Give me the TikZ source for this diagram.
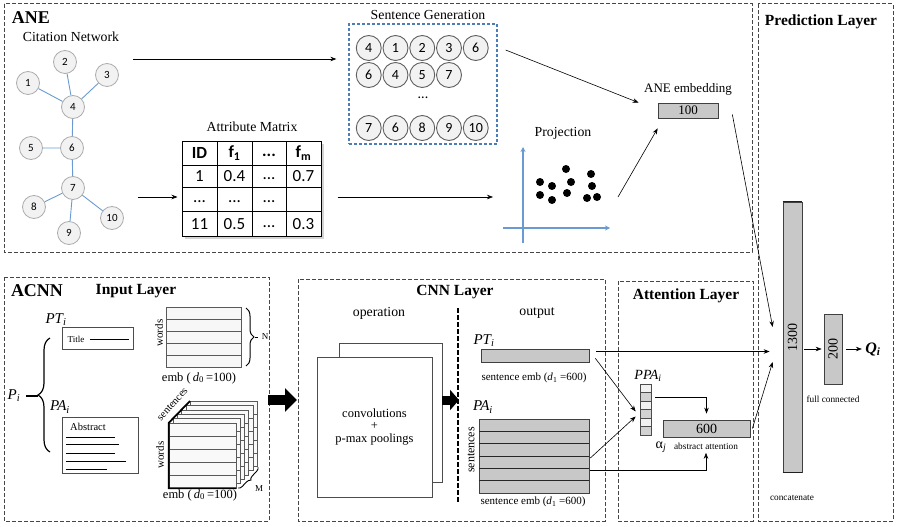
\documentclass[tikz,border=0pt]{standalone}
\usepackage{fontspec}
\setmainfont{Liberation Serif}
\newfontfamily\calib{Carlito}
\usetikzlibrary{arrows.meta,decorations.pathreplacing,shadows}
\newcommand{\fsz}[1]{\fontsize{#1}{#1}\selectfont}
\definecolor{netblue}{RGB}{105,155,210}
\definecolor{sgblue}{RGB}{75,125,185}
\definecolor{barfill}{RGB}{200,200,200}
\definecolor{boxline}{RGB}{70,70,70}

\begin{document}
\begin{tikzpicture}[x=1pt,y=-1pt]
\useasboundingbox (0,0) rectangle (897,527);
\tikzstyle{layer}=[draw=boxline,line width=1pt,dash pattern=on 4pt off 2pt]
\tikzstyle{conn}=[-{Stealth[length=6pt,width=4.5pt]},line width=0.6pt]
\tikzstyle{netnode}=[circle,draw=gray!65,fill=gray!10,line width=0.8pt,minimum size=23pt,inner sep=0pt,font=\calib\fsz{11}]
\tikzstyle{seqnode}=[circle,draw=gray!75!black,fill=gray!10,line width=0.9pt,minimum size=25pt,inner sep=0pt,font=\calib\fsz{14}]
\tikzstyle{bar}=[draw=gray!50!black,fill=barfill,inner sep=0pt,line width=0.7pt]
\tikzstyle{title}=[font=\bfseries\fsz{15.5}]
\tikzstyle{lab}=[font=\fsz{13.8}]
\tikzstyle{small}=[font=\fsz{9.3}]
\tikzstyle{cell}=[font=\calib\fsz{17},inner sep=0pt]
\tikzstyle{sym}=[font=\itshape\fsz{15}]
\tikzstyle{axis}=[netblue,line width=1.6pt,-{Stealth[length=5pt,width=5pt]}]
\tikzstyle{fat}=[-{Triangle[length=12pt,width=23pt]}]

% layers
\draw[layer] (4,4) rectangle (752,252);
\draw[layer] (758,4) rectangle (893,521);
\draw[layer] (4,277) rectangle (269,521);
\draw[layer] (298,279) rectangle (605,521);
\draw[layer] (618,281) rectangle (753,521);
\node[font=\bfseries\fsz{18}] (ane) at (31,18) {ANE};
\node[title] (pred) at (821,22) {Prediction Layer};
\node[font=\bfseries\fsz{18}] (acnn) at (37,291) {ACNN};
\node[title] (inp) at (136,291) {Input Layer};
\node[title] (cnn) at (455,292) {CNN Layer};
\node[title] (attn) at (686,296) {Attention Layer};

% citation network
\node[lab] (citlab) at (71,37) {Citation Network};
\foreach \n/\x/\y in {1/28/83,2/65/62,3/107/75,4/73/107,5/31/148,6/72/148,7/73/188,8/34/207,9/69/233,10/112/218}
  \node[netnode] (n\n) at (\x,\y) {\n};
\draw[netblue,line width=0.9pt] (n1)--(n4) (n2)--(n4) (n3)--(n4) (n4)--(n6)
  (n5)--(n6) (n6)--(n7) (n7)--(n8) (n7)--(n9) (n7)--(n10);
\coordinate (netout1) at (133,59);
\coordinate (netout2) at (138,197);

% attribute matrix
\node[lab] (attrlab) at (252,127) {Attribute Matrix};
\node[draw,line width=1pt,fill=white,minimum width=139pt,minimum height=95pt,inner sep=0pt,
  drop shadow={shadow xshift=2.5pt,shadow yshift=-2.5pt,opacity=0.35}] (attr) at (251.5,189) {};
\draw[line width=0.9pt] (217,141.5)--(217,236.5) (252,141.5)--(252,236.5) (286,141.5)--(286,236.5)
  (182,165)--(321,165) (182,187)--(321,187) (182,211)--(321,211);
\node[cell,font=\calib\bfseries\fsz{17}] (c01) at (199.5,153) {ID};
\node[cell,font=\calib\bfseries\fsz{17}] (c02) at (234.5,153) {f\textsubscript{1}};
\node[cell,font=\calib\bfseries\fsz{17}] (c03) at (269,155) {...};
\node[cell,font=\calib\bfseries\fsz{17}] (c04) at (303.5,153) {f\textsubscript{m}};
\node[cell] (c11) at (199.5,176) {1};
\node[cell] (c12) at (234.5,176) {0.4};
\node[cell] (c13) at (269,179) {...};
\node[cell] (c14) at (303.5,176) {0.7};
\node[cell] (c21) at (199.5,202) {...};
\node[cell] (c22) at (234.5,202) {...};
\node[cell] (c23) at (269,202) {...};
\node[cell] (c31) at (199.5,224) {11};
\node[cell] (c32) at (234.5,224) {0.5};
\node[cell] (c33) at (269,227) {...};
\node[cell] (c34) at (303.5,224) {0.3};

% sentence generation
\node[lab] (sglab) at (428,15) {Sentence Generation};
\node[draw=sgblue,dash pattern=on 3pt off 2pt,line width=1.3pt,minimum width=148pt,minimum height=120pt] (sentbox) at (423,84) {};
\foreach \v [count=\i] in {4,1,2,3,6}
  \node[seqnode] (sa\i) at (342+26.75*\i,48) {\v};
\foreach \v [count=\i] in {6,4,5,7}
  \node[seqnode] (sb\i) at (342+26.75*\i,75) {\v};
\node[font=\calib\fsz{14}] (sdots) at (423,98) {...};
\foreach \v [count=\i] in {7,6,8,9,10}
  \node[seqnode] (sc\i) at (342+26.75*\i,128) {\v};

% projection
\node[lab] (projlab) at (563,133) {Projection};
\draw[axis] (523,243) -- (523,147);
\draw[axis] (503,228) -- (610,228);
\foreach \x/\y in {540/182,552/186,566/169,571/182,591/174,592/186,540/195,552/200,567/193,587/198,597/197}
  \fill (\x,\y) circle (4pt);
\coordinate (projin) at (493,197);
\coordinate (projout) at (618,197);

% ANE embedding
\node[font=\fsz{13}] (anelab) at (688,89) {ANE embedding};
\node[bar,minimum width=60pt,minimum height=15pt,font=\fsz{13}] (anebox) at (688,110.5) {100};

\draw[conn] (netout1) -- ([xshift=-12pt]sentbox.west |- netout1);
\draw[conn] (netout2) -- ([xshift=-4pt]attr.west |- netout2);
\draw[conn] ([xshift=16pt]attr.east |- netout2) -- (projin);
\draw[conn] ([xshift=8pt,yshift=34pt]sentbox.east) -- ([xshift=-19pt]anebox.north west);
\draw[conn] (projout) -- ([yshift=-10pt]anebox.south west);

% input layer
\node[sym] (pt) at (56,320) {PT\textsubscript{i}};
\node[draw=gray!60!black,line width=0.8pt,minimum width=71pt,minimum height=22pt] (tbox) at (97.5,338) {};
\node[font=\fsz{9}] (titletxt) at (76,339) {Title};
\draw[line width=0.8pt] ([xshift=2pt]titletxt.east) -- ([xshift=-4pt]tbox.east |- titletxt.east);
\node[sym] (pi) at (14,396) {P\textsubscript{i}};
\draw[decorate,decoration={brace,amplitude=12pt},line width=1.2pt] (50,452) -- (50,338);
\coordinate (brtip) at (38,396);
\draw[line width=1.2pt] ([xshift=2pt]pi.east) -- (brtip);
\node[sym] (pa) at (60,407) {PA\textsubscript{i}};
\node[draw=gray!60!black,line width=0.8pt,minimum width=76pt,minimum height=56pt] (abox) at (100,445) {};
\node[font=\fsz{10.5}] (abstxt) at (88,427) {Abstract};
\foreach \y/\l in {437/115,444/119,453/115,461/126,469/107}
  \draw[line width=0.8pt] (66,\y) -- (\l,\y);

\node[draw=gray!70!black,fill=gray!6,minimum width=75pt,minimum height=60pt] (wmat) at (203.5,337) {};
\foreach \y in {319,331,343,355}
  \draw[gray!70!black] (166,\y) -- (241,\y);
\node[rotate=90,font=\fsz{11}] (wlab1) at (159,333) {words};
\draw[decorate,decoration={brace,amplitude=8pt},line width=1pt] (246,308) -- (246,366);
\node[font=\fsz{9}] (nlab) at (265,337) {N};
\draw (255,337) -- (nlab.west);
\node[font=\fsz{12.5}] (emb1) at (199,378) {emb (\,\textit{d}\textsubscript{0}\,=100)};

\foreach \k in {5,4,3,2,1}{
  \draw[gray!70!black,fill=gray!5] (169+4.2*\k,423-4.4*\k) rectangle ++(67,65);
  \foreach \j in {1,2,3,4}
    \draw[gray!70!black] (169+4.2*\k,423-4.4*\k+13*\j) -- ++(67,0);
}
\node[draw=gray!70!black,fill=gray!5,minimum width=67pt,minimum height=65pt] (smat) at (202.5,455.5) {};
\foreach \j in {1,2,3,4}
  \draw[gray!70!black] (169,423+13*\j) -- ++(67,0);
\draw[line width=1.8pt] (190,401) -- (smat.north west) -- (smat.south west) -- (smat.south east);
\node[rotate=48,font=\fsz{10.5},inner sep=0pt] (slab1) at (172.5,404.5) {sentences};
\node[rotate=90,font=\fsz{11}] (wlab2) at (160,455) {words};
\node[font=\fsz{12.5}] (emb2) at (200,495) {emb (\,\textit{d}\textsubscript{0}\,=100)};
\draw[decorate,decoration={brace,amplitude=4pt,mirror},line width=0.9pt] (238,488) -- (258,467);
\node[font=\fsz{9}] (mlab) at (259,489) {M};

\draw[fat,line width=10pt] (268,400) -- (297,400);

% CNN layer
\node[lab] (oplab) at (379,313) {operation};
\node[lab] (outlab) at (537,313) {output};
\node[draw=gray!60!black,fill=white,minimum width=103pt,minimum height=139pt] (page2) at (390.5,412.5) {};
\node[draw=gray!60!black,fill=white,minimum width=115pt,minimum height=140pt,align=center,
  font=\fontsize{12.5}{12.8}\selectfont] (page1) at (374.5,427) {convolutions\\+\\p-max poolings};
\draw[line width=2pt,dash pattern=on 5pt off 2pt] (458,308) -- (458,503);
\draw[-{Triangle[length=9pt,width=20pt]},line width=9pt] (442,400) -- (459,400);

\node[sym] (pt2) at (484,341) {PT\textsubscript{i}};
\node[bar,minimum width=108pt,minimum height=13pt] (ptbox) at (535,355.5) {};
\node[font=\fsz{11}] (ptemb) at (534,378) {sentence emb (\textit{d}\textsubscript{1} =600)};
\node[sym] (pa2) at (483,407) {PA\textsubscript{i}};
\node[bar,minimum width=110pt,minimum height=74pt] (pabox) at (534,456) {};
\foreach \j in {1,...,5}
  \draw[gray!30!black,line width=0.7pt] (479,419+12.33*\j) -- (589,419+12.33*\j);
\node[rotate=90,font=\fsz{12}] (slab2) at (471,450) {sentences};
\node[font=\fsz{11}] (paemb) at (533,502) {sentence emb (\textit{d}\textsubscript{1} =600)};

% attention layer
\foreach \j in {0,2,4}
  \fill[gray!10] (640,384+8.5*\j) rectangle ++(11,8.5);
\foreach \j in {1,3,5}
  \fill[gray!35] (640,384+8.5*\j) rectangle ++(11,8.5);
\node[draw=gray!60!black,line width=0.7pt,minimum width=11pt,minimum height=51pt,inner sep=0pt] (ppa) at (645.5,409.5) {};
\foreach \j in {1,...,5}
  \draw[gray!60!black,line width=0.6pt] (640,384+8.5*\j) -- (651,384+8.5*\j);
\node[font=\itshape\fsz{14}] (ppalab) at (648,376) {PPA\textsubscript{i}};
\node[font=\fsz{14}] (alpha) at (661,447) {α\textsubscript{\textit{j}}};
\node[bar,minimum width=87pt,minimum height=17pt,font=\fsz{14}] (attbox) at (706.5,428.5) {600};
\node[small] (attlab) at (706,446) {abstract attention};

\draw[conn] ([xshift=6pt,yshift=4pt]ptbox.south east) -- ([xshift=-4pt,yshift=-2pt]ppa.west);
\draw[conn] ([xshift=1pt,yshift=-2pt]pabox.east) -- ([xshift=-4pt,yshift=-7pt]ppa.west);
\draw[conn] ([xshift=4pt,yshift=12.5pt]ppa.east) -| ([yshift=6pt]attbox.north);
\draw[conn] ([xshift=1pt,yshift=-14pt]pabox.east) -| (attlab.south);

% prediction layer
\node[bar,minimum width=19pt,minimum height=270pt] (concat) at (792.5,337) {};
\draw[line width=1.6pt,gray!25!black] (concat.north west) -- (concat.north east)
  (concat.south west) -- (concat.south east);
\node[rotate=90,font=\fsz{14}] (ctxt) at (concat) {1300};
\node[bar,minimum width=18pt,minimum height=70pt] (fc) at (833,349) {};
\node[rotate=90,font=\fsz{14}] (fctxt) at (fc) {200};
\node[small] (fclab) at (833,399) {full connected};
\node[small] (clab) at (792,498) {concatenate};
\node[font=\bfseries\itshape\fsz{16}] (q) at (873,349) {Q\textsubscript{i}};

\draw[conn] ([xshift=14pt,yshift=-4pt]anebox.east) -- ([xshift=-10pt,yshift=10pt]concat.west);
\draw[conn] ([xshift=7pt,yshift=4pt]ptbox.east) -- ([xshift=-13pt,yshift=4pt]concat.west |- ptbox.east);
\draw[conn] ([xshift=2pt]attbox.east) -- ([xshift=-10pt,yshift=-25pt]concat.west);
\draw[conn] ([xshift=2pt]concat.east |- fc.west) -- ([xshift=-2pt]fc.west);
\draw[conn] ([xshift=4pt]fc.east) -- (q.west);
\end{tikzpicture}
\end{document}
